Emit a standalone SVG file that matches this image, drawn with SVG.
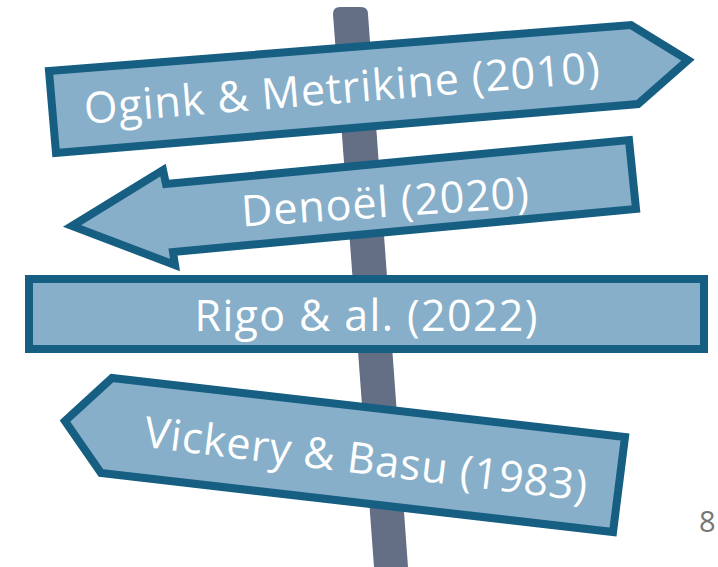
<svg xmlns="http://www.w3.org/2000/svg" width="718" height="567" viewBox="0 0 718 567">
  <style>
    .sign { fill: #87afc9; stroke: #165f82; stroke-width: 8; stroke-linejoin: miter; }
    .lbl { font-family: "Open Sans", "Noto Sans", "DejaVu Sans", sans-serif; fill: #ffffff; font-size: 43px; text-anchor: middle; }
    .pg { font-family: "Open Sans", "Noto Sans", sans-serif; fill: #777777; font-size: 29px; }
  </style>
  <rect width="718" height="567" fill="#ffffff"/>
  <g id="pole">
    <path d="M333 14 Q333 7 340 7 L361 7 Q368 7 368 14 L408 567 L374 567 Z" fill="#646f86"/>
  </g>
  <g id="sign-ogink">
    <polygon class="sign" points="49,71 631,25 688,60 638,104 56,153"/>
    <text class="lbl" x="343" y="103" transform="rotate(-4.6 343 103)" textLength="517">Ogink &amp; Metrikine (2010)</text>
  </g>
  <g id="sign-denoel">
    <polygon class="sign" points="163,170 166,184 629,140 636,209 173,252 175,265 72,226"/>
    <text class="lbl" x="386" y="217" transform="rotate(-3.8 386 217)" textLength="288">Denoël (2020)</text>
  </g>
  <g id="sign-rigo">
    <rect class="sign" x="29" y="279" width="675" height="70"/>
    <text class="lbl" x="366" y="331" textLength="343">Rigo &amp; al. (2022)</text>
  </g>
  <g id="sign-vickery">
    <polygon class="sign" points="65,421 112,378 625,437 613,532 101,473"/>
    <text class="lbl" x="364" y="474" transform="rotate(7 364 474)" textLength="446">Vickery &amp; Basu (1983)</text>
  </g>
  <text class="pg" x="699" y="532">8</text>
</svg>
